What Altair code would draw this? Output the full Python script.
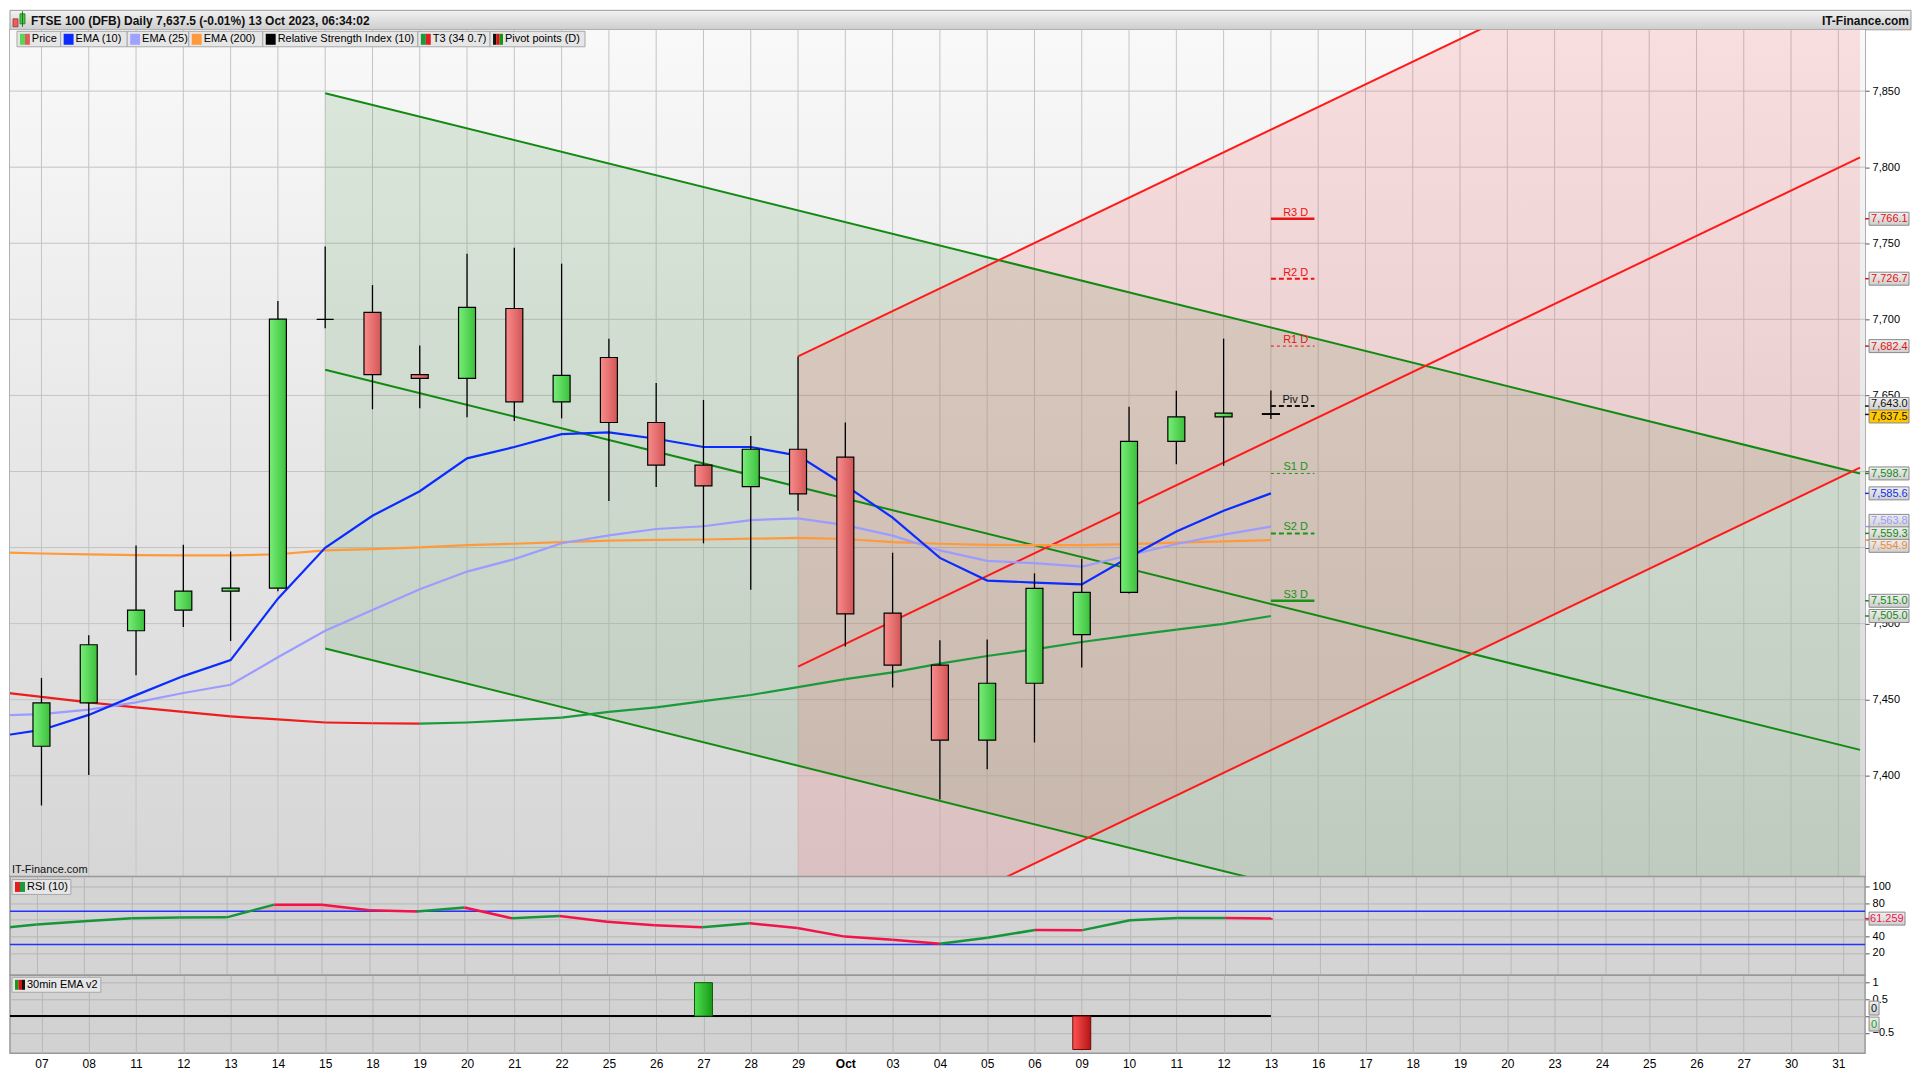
import altair as alt
import pandas as pd

# ---------------- data ----------------
date_labels = ["07", "08", "11", "12", "13", "14", "15", "18", "19", "20", "21", "22", "25", "26", "27", "28", "29",
               "Oct", "03", "04", "05", "06", "09", "10", "11", "12", "13",
               "16", "17", "18", "19", "20", "23", "24", "25", "26", "27", "30", "31"]

opens = [7419.4, 7447.9, 7495.3, 7508.9, 7521.3, 7523.3, 7700.0, 7704.6, 7663.7, 7661.2, 7707.1, 7645.8, 7674.9,
         7632.2, 7604.2, 7590.0, 7614.6, 7609.4, 7506.9, 7472.7, 7423.4, 7460.8, 7492.8, 7520.5, 7619.8, 7635.9, 7638.0]
highs = [7464.3, 7492.3, 7551.3, 7551.8, 7547.4, 7712.1, 7747.8, 7722.5, 7682.8, 7743.1, 7747.0, 7736.6, 7687.3,
         7658.2, 7647.0, 7623.3, 7675.6, 7632.2, 7546.6, 7489.0, 7489.6, 7533.0, 7542.7, 7642.6, 7653.0, 7687.3, 7653.3]
lows = [7380.5, 7400.5, 7466.0, 7497.8, 7488.6, 7521.3, 7694.2, 7640.9, 7641.6, 7635.7, 7633.2, 7634.9, 7580.6,
        7589.8, 7552.8, 7522.3, 7574.2, 7484.9, 7458.0, 7384.4, 7404.3, 7421.9, 7471.2, 7519.8, 7604.7, 7603.7, 7634.5]
closes = [7447.9, 7486.1, 7508.9, 7521.3, 7523.3, 7700.1, 7700.0, 7663.7, 7661.2, 7707.8, 7645.8, 7663.2, 7632.2,
          7604.2, 7590.5, 7614.6, 7585.3, 7506.4, 7472.7, 7423.4, 7460.8, 7523.1, 7520.5, 7619.8, 7635.9, 7638.4, 7637.5]

# indicator series start one session earlier (06 Sep, index -1)
ind_idx = list(range(-1, 27))
ema10 = [7425.5, 7430.1, 7440.0, 7453.0, 7465.5, 7476.0, 7516.4, 7549.8, 7570.9, 7587.0, 7608.6, 7616.1, 7624.5,
         7625.7, 7621.5, 7616.1, 7616.1, 7610.4, 7590.8, 7569.7, 7543.2, 7528.3, 7527.0, 7525.8, 7543.6, 7560.5,
         7574.2, 7585.6]
ema25 = [7439.6, 7440.5, 7443.5, 7448.2, 7454.4, 7459.8, 7477.9, 7495.3, 7508.9, 7522.6, 7534.2, 7542.4, 7552.8,
         7558.0, 7562.2, 7564.0, 7568.0, 7569.2, 7564.7, 7557.8, 7548.1, 7541.2, 7539.7, 7537.4, 7544.9, 7552.3,
         7558.5, 7563.8]
ema200 = [7547.0, 7546.1, 7545.5, 7545.0, 7544.8, 7544.8, 7545.6, 7548.1, 7549.0, 7550.1, 7551.6, 7552.5, 7553.6,
          7554.6, 7555.0, 7555.3, 7555.8, 7556.3, 7555.6, 7553.6, 7552.5, 7551.8, 7551.6, 7551.6, 7552.3, 7553.2,
          7554.0, 7554.9]
t3 = [7455.5, 7451.9, 7448.2, 7445.0, 7442.0, 7439.0, 7437.0, 7435.0, 7434.5, 7434.3, 7435.0, 7436.5, 7438.2,
      7442.0, 7445.0, 7449.0, 7453.1, 7458.3, 7463.5, 7468.0, 7473.7, 7478.7, 7483.1, 7487.9, 7492.1, 7496.1,
      7499.8, 7505.0]
rsi = [48.6, 54.1, 58.1, 61.6, 62.7, 62.8, 78.1, 78.0, 71.4, 69.9, 74.6, 61.6, 64.4, 57.6, 53.4, 51.0, 55.7, 49.9,
       39.6, 35.7, 31.0, 38.1, 47.6, 47.4, 59.3, 61.9, 62.0, 61.259]
rsi_bands = [30, 70]

sig_idx = [14, 22]
sig_val = [1, -1]
sig_last_idx = 26

pivot_names = ["R3 D", "R2 D", "R1 D", "Piv D", "S1 D", "S2 D", "S3 D"]
pivot_vals = [7766.1, 7726.7, 7682.4, 7643.0, 7598.7, 7559.3, 7515.0]
pivot_x = [26, 26.92]

green_ch_x = [6, 38.46]
green_ch_upper = [7848.6, 7598.7]
green_ch_mid = [7666.9, 7417.0]
green_ch_lower = [7483.6, 7233.7]
red_ch_x = [16, 38.46]
red_ch_upper = [7675.6, 8010.3]
red_ch_mid = [7471.7, 7806.4]
red_ch_lower = [7267.8, 7602.5]

price_ticks = list(range(7400, 7851, 50))
price_ticks_hidden = [7550, 7600]          # covered by value tags in the original
price_tags = [7766.1, 7726.7, 7682.4, 7643.0, 7637.5, 7598.7, 7585.6, 7563.8, 7559.3, 7554.9, 7515.0, 7505.0]
price_tag_text = ["7,766.1", "7,726.7", "7,682.4", "7,643.0", "7,637.5", "7,598.7", "7,585.6", "7,563.8",
                  "7,559.3", "7,554.9", "7,515.0", "7,505.0"]

title_text = "FTSE 100 (DFB) Daily 7,637.5 (-0.01%) 13 Oct 2023, 06:34:02"
legend_names = ["Price", "EMA (10)", "EMA (25)", "EMA (200)", "Relative Strength Index (10)", "T3 (34 0.7)",
                "Pivot points (D)"]

# ---------------- styles / layout ----------------
FONT = "Liberation Sans"
W = 1858
H_TOP, H_MAIN, H_RSI, H_EMA = 20, 848, 99, 78
XD = [-0.56, 38.46]
YD_MAIN = [7333.8, 7890.3]
YD_RSI = [-7.0, 112.0]
YD_EMA = [-1.11, 1.22]
GRID = "#c4c4c4"
GREEN_LINE = "#128a12"
RED_LINE = "#ff1a1a"
PIV_COL = {"R": "#ee1111", "P": "#111111", "S": "#179317"}

price_tag_col = ["#e81010", "#e81010", "#e81010", "#111111", "#111111", "#128a12", "#1030f0", "#9a9aff",
                 "#128a12", "#f08a30", "#128a12", "#128a12"]
price_tag_fill = ["#dcdcdc"] * 4 + ["#ffc800"] + ["#dcdcdc"] * 7
legend_edges = [2, 46, 113, 175, 249.5, 405.7, 478.4, 574]
legend_swatches = [["#52d852", "#e05a5a"], ["#0a2cff"], ["#a0a0ff"], ["#ff9a3c"], ["#000000"],
                   ["#1a9a3a", "#e02020"], ["#111111", "#dd1111", "#119911"]]


def lin(c0, c1, vertical=False):
    return alt.LinearGradient(gradient="linear", x1=0, y1=0, x2=0 if vertical else 1, y2=1 if vertical else 0,
                              stops=[alt.GradientStop(offset=0, color=c0), alt.GradientStop(offset=1, color=c1)])


GRAD_G = lin("#78ee78", "#3cc03c")
GRAD_R = lin("#f98c8c", "#d35656")
GRAD_G2 = lin("#50de50", "#179a17")
GRAD_R2 = lin("#ff5252", "#b51414")
MAIN_BG = lin("#f9f9f9", "#d6d6d6", vertical=True)
BAR_BG = lin("#f2f2f2", "#cdcdcd", vertical=True)
BOX_BG = lin("#efefef", "#cfcfcf", vertical=True)

day_idx = list(range(len(date_labels)))
xs = alt.Scale(domain=XD, nice=False, zero=False)


def spread(vals, gap):
    order = sorted(range(len(vals)), key=lambda i: -vals[i])
    pos = [vals[i] for i in order]
    for _ in range(300):
        moved = False
        for k in range(len(pos) - 1):
            d = pos[k] - pos[k + 1]
            if d < gap - 1e-9:
                m = (gap - d) / 2
                pos[k] += m
                pos[k + 1] -= m
                moved = True
        if not moved:
            break
    out = [0.0] * len(vals)
    for k, i in enumerate(order):
        out[i] = pos[k]
    return out


def yaxis(values, grid=True, gridcolor=GRID, fmt=None, hide=None):
    kw = dict(orient="right", values=values, grid=grid, labelFont=FONT, labelFontSize=11, labelColor="#000",
              tickSize=4, tickColor="#555", domain=False, title=None, labelPadding=3)
    if grid:
        kw["gridColor"] = gridcolor
        kw["gridWidth"] = 1
    if fmt:
        kw["format"] = fmt
    if hide:
        kw["labelExpr"] = "indexof([%s], datum.value) >= 0 ? '' : datum.label" % ",".join(str(h) for h in hide)
    return alt.Axis(**kw)


ax_x_nogrid = alt.Axis(grid=False, labels=False, ticks=False, domain=False, title=None, values=day_idx)
ax_x_hidden = alt.Axis(grid=True, labels=False, ticks=False, domain=False, title=None, values=day_idx,
                       gridColor="#b8b8b8", gridWidth=1)
label_arr = "[" + ",".join("'%s'" % d for d in date_labels) + "]"
ax_x_bottom = alt.Axis(grid=True, labels=True, ticks=False, domain=False, title=None, values=day_idx,
                       gridColor="#b8b8b8", labelExpr=label_arr + "[datum.value]", labelFont=FONT,
                       labelFontSize=12, labelColor="#000", labelPadding=5,
                       labelFontWeight={"condition": {"test": "datum.value == 17", "value": "bold"},
                                        "value": "normal"})

one = pd.DataFrame({"a": [0]})

# ================= top bar =================
top_layers = [
    alt.Chart(one).mark_rect(fill=BAR_BG, stroke="#9a9a9a", strokeWidth=1).encode(
        x=alt.value(0), x2=alt.value(W + 46), y=alt.value(0.5), y2=alt.value(H_TOP)),
    alt.Chart(one).mark_rect(fill="#e86060", stroke="#a03030", strokeWidth=0.8).encode(
        x=alt.value(3), x2=alt.value(8), y=alt.value(9), y2=alt.value(17)),
    alt.Chart(one).mark_rect(fill="#40d040", stroke="#207020", strokeWidth=0.8).encode(
        x=alt.value(10), x2=alt.value(15), y=alt.value(4), y2=alt.value(14)),
    alt.Chart(one).mark_rule(color="#207020").encode(x=alt.value(12.5), y=alt.value(1.5), y2=alt.value(17)),
    alt.Chart(one).mark_text(text=title_text, font=FONT, fontSize=12, fontWeight="bold", align="left",
                             baseline="middle", color="#111").encode(x=alt.value(21), y=alt.value(11)),
    alt.Chart(one).mark_text(text="IT-Finance.com", font=FONT, fontSize=12, fontWeight="bold", align="right",
                             baseline="middle", color="#111").encode(x=alt.value(W + 44), y=alt.value(11)),
]
top = alt.layer(*top_layers).properties(width=W, height=H_TOP,
                                         view=alt.ViewBackground(stroke="transparent"))

# ================= main panel =================
ys_main = alt.Scale(domain=YD_MAIN, nice=False, zero=False)
ax_main_y = yaxis(price_ticks, grid=False, fmt=",.0f", hide=price_ticks_hidden)
PX_PER_PT = H_MAIN / (YD_MAIN[1] - YD_MAIN[0])


def MX(f):
    return alt.X(f + ":Q", scale=xs, axis=ax_x_nogrid)


def MY(f):
    return alt.Y(f + ":Q", scale=ys_main, axis=ax_main_y)


def mx(px):
    return XD[0] + px / W * (XD[1] - XD[0])


def my(py):
    return YD_MAIN[1] - py / H_MAIN * (YD_MAIN[1] - YD_MAIN[0])


main_layers = [
    alt.Chart(one).mark_rect(fill=MAIN_BG).encode(x=alt.value(0), x2=alt.value(W), y=alt.value(0),
                                                  y2=alt.value(H_MAIN)),
    alt.Chart(pd.DataFrame({"x": day_idx})).mark_rule(color=GRID, strokeWidth=1).encode(x=MX("x")),
    alt.Chart(pd.DataFrame({"y": price_ticks})).mark_rule(color=GRID, strokeWidth=1).encode(y=MY("y")),
]

gfill = pd.DataFrame({"x": green_ch_x, "y": green_ch_upper, "y2": green_ch_lower})
main_layers.append(alt.Chart(gfill).mark_area(clip=True, color="#3a8f3a", opacity=0.15).encode(
    x=MX("x"), y=MY("y"), y2=alt.Y2("y2")))
rfill = pd.DataFrame({"x": red_ch_x, "y": red_ch_upper, "y2": red_ch_lower})
main_layers.append(alt.Chart(rfill).mark_area(clip=True, color="#f25050", opacity=0.16).encode(
    x=MX("x"), y=MY("y"), y2=alt.Y2("y2")))

ch_rows = []
for ys_, col, xx in [(green_ch_upper, GREEN_LINE, green_ch_x), (green_ch_mid, GREEN_LINE, green_ch_x),
                     (green_ch_lower, GREEN_LINE, green_ch_x), (red_ch_upper, RED_LINE, red_ch_x),
                     (red_ch_mid, RED_LINE, red_ch_x), (red_ch_lower, RED_LINE, red_ch_x)]:
    ch_rows.append({"x": xx[0], "x2": xx[1], "y": ys_[0], "y2": ys_[1], "col": col})
main_layers.append(alt.Chart(pd.DataFrame(ch_rows)).mark_rule(clip=True, strokeWidth=2).encode(
    x=MX("x"), x2=alt.X2("x2"), y=MY("y"), y2=alt.Y2("y2"), color=alt.Color("col:N", scale=None)))

# T3 coloured segments
t3_rows = []
for i in range(len(ind_idx) - 1):
    t3_rows.append({"x": ind_idx[i], "x2": ind_idx[i + 1], "y": t3[i], "y2": t3[i + 1],
                    "col": "#1a9a3a" if t3[i + 1] >= t3[i] else "#ee1c1c"})
main_layers.append(alt.Chart(pd.DataFrame(t3_rows)).mark_rule(clip=True, strokeWidth=2.2).encode(
    x=MX("x"), x2=alt.X2("x2"), y=MY("y"), y2=alt.Y2("y2"), color=alt.Color("col:N", scale=None)))

for series, col in [(ema200, "#ff9a3c"), (ema25, "#9c9cff"), (ema10, "#0a2cff")]:
    df = pd.DataFrame({"x": ind_idx, "y": series})
    main_layers.append(alt.Chart(df).mark_line(clip=True, strokeWidth=2.2, color=col).encode(
        x=MX("x"), y=MY("y")))

candles = pd.DataFrame({"x": list(range(len(opens))), "o": opens, "h": highs, "l": lows, "c": closes})
candles["up"] = candles["c"] >= candles["o"]
main_layers.append(alt.Chart(candles).mark_rule(color="#000", strokeWidth=1.3).encode(
    x=MX("x"), y=MY("l"), y2=alt.Y2("h")))
main_layers.append(alt.Chart(candles[candles["up"]]).mark_bar(width=17, fill=GRAD_G, stroke="#000",
                                                               strokeWidth=1.2).encode(
    x=MX("x"), y=MY("o"), y2=alt.Y2("c")))
main_layers.append(alt.Chart(candles[~candles["up"]]).mark_bar(width=17, fill=GRAD_R, stroke="#000",
                                                                strokeWidth=1.2).encode(
    x=MX("x"), y=MY("o"), y2=alt.Y2("c")))

# pivot levels
piv_style = {"R3 D": (2.5, None), "R2 D": (2.0, [5, 3]), "R1 D": (1.0, [3, 3]), "Piv D": (2.0, [5, 3]),
             "S1 D": (1.0, [3, 3]), "S2 D": (2.0, [5, 3]), "S3 D": (2.5, None)}
piv_text_rows = []
for name, val in zip(pivot_names, pivot_vals):
    col = PIV_COL[name[0]]
    sw, dash = piv_style[name]
    df = pd.DataFrame({"x": [pivot_x[0]], "x2": [pivot_x[1]], "y": [val]})
    kw = dict(color=col, strokeWidth=sw)
    if dash:
        kw["strokeDash"] = dash
    main_layers.append(alt.Chart(df).mark_rule(**kw).encode(x=MX("x"), x2=alt.X2("x2"), y=MY("y")))
    piv_text_rows.append({"x": (pivot_x[0] + pivot_x[1]) / 2, "y": val, "t": name, "col": col})
main_layers.append(alt.Chart(pd.DataFrame(piv_text_rows)).mark_text(
    font=FONT, fontSize=11, align="center", baseline="bottom", dx=3, dy=-1).encode(
    x=MX("x"), y=MY("y"), text="t:N", color=alt.Color("col:N", scale=None)))

# right-hand value tags
tag_pos = spread(price_tags, 12.5 / PX_PER_PT)
half = 6.5 / PX_PER_PT
tags = pd.DataFrame({"v": price_tags, "p": tag_pos, "t": price_tag_text, "col": price_tag_col,
                     "fill": price_tag_fill})
tags["top"] = tags["p"] + half
tags["bot"] = tags["p"] - half
main_layers.append(alt.Chart(tags).mark_rule(strokeWidth=1.5).encode(
    x=alt.value(W), x2=alt.value(W + 4), y=MY("v"), color=alt.Color("col:N", scale=None)))
for i in range(len(tags)):
    row = tags.iloc[[i]]
    fill = BOX_BG if row["fill"].iloc[0] == "#dcdcdc" else row["fill"].iloc[0]
    main_layers.append(alt.Chart(row).mark_rect(fill=fill, stroke="#8a8a8a", strokeWidth=1).encode(
        x=alt.value(W + 4), x2=alt.value(W + 44), y=MY("top"), y2=alt.Y2("bot")))
    main_layers.append(alt.Chart(row).mark_text(font=FONT, fontSize=11, align="left", baseline="middle",
                                                dy=0.5).encode(
        x=alt.value(W + 6), y=MY("p"), text="t:N", color=alt.Color("col:N", scale=None)))

# legend row (overlay at top-left)
leg_boxes = pd.DataFrame({"x": [mx(legend_edges[i]) for i in range(7)],
                          "x2": [mx(legend_edges[i + 1]) for i in range(7)],
                          "y": [my(1.5)] * 7, "y2": [my(17)] * 7,
                          "tx": [mx(legend_edges[i] + 15) for i in range(7)], "ty": [my(9.5)] * 7,
                          "t": legend_names})
main_layers.append(alt.Chart(leg_boxes).mark_rect(fill="#e6e6e6", stroke="#a8a8a8", strokeWidth=1).encode(
    x=MX("x"), x2=alt.X2("x2"), y=MY("y"), y2=alt.Y2("y2")))
sw_rows = []
for i, cols in enumerate(legend_swatches):
    n = len(cols)
    for j, c in enumerate(cols):
        a = legend_edges[i] + 3 + 10 * j / n
        b = legend_edges[i] + 3 + 10 * (j + 1) / n
        sw_rows.append({"x": mx(a), "x2": mx(b), "y": my(4), "y2": my(15), "col": c})
main_layers.append(alt.Chart(pd.DataFrame(sw_rows)).mark_rect().encode(
    x=MX("x"), x2=alt.X2("x2"), y=MY("y"), y2=alt.Y2("y2"), color=alt.Color("col:N", scale=None)))
main_layers.append(alt.Chart(leg_boxes).mark_text(font=FONT, fontSize=11, align="left", baseline="middle",
                                                  color="#000").encode(
    x=MX("tx"), y=MY("ty"), text="t:N"))
main_layers.append(alt.Chart(one).mark_text(text="IT-Finance.com", font=FONT, fontSize=11, align="left",
                                            baseline="bottom", color="#111").encode(
    x=alt.value(2), y=alt.value(H_MAIN - 1)))

main = alt.layer(*main_layers).properties(width=W, height=H_MAIN,
                                          view=alt.ViewBackground(stroke="#999", strokeWidth=1.5))

# ================= RSI panel =================
ys_rsi = alt.Scale(domain=YD_RSI, nice=False, zero=False)
ax_rsi_y = yaxis([20, 40, 60, 80, 100], gridcolor="#b6b6b6", hide=[60])


def RX(f):
    return alt.X(f + ":Q", scale=xs, axis=ax_x_hidden)


def RY(f):
    return alt.Y(f + ":Q", scale=ys_rsi, axis=ax_rsi_y)


rsi_layers = []
hi = rsi_bands[1]
fx, fy = [], []
for i in range(len(ind_idx)):
    if i > 0:
        a, b = rsi[i - 1], rsi[i]
        if (a - hi) * (b - hi) < 0:
            t = (hi - a) / (b - a)
            fx.append(ind_idx[i - 1] + t)
            fy.append(hi)
    fx.append(ind_idx[i])
    fy.append(max(rsi[i], hi))
rsi_fill = pd.DataFrame({"x": fx, "y": fy, "y2": [hi] * len(fx)})
rsi_layers.append(alt.Chart(rsi_fill).mark_area(clip=True, color="#e07080", opacity=0.3).encode(
    x=RX("x"), y=RY("y"), y2=alt.Y2("y2")))
rsi_layers.append(alt.Chart(pd.DataFrame({"y": rsi_bands})).mark_rule(color="#2233ff", strokeWidth=1.5).encode(
    y=RY("y")))
rs_rows = []
for i in range(len(ind_idx) - 1):
    rs_rows.append({"x": ind_idx[i], "x2": ind_idx[i + 1], "y": rsi[i], "y2": rsi[i + 1],
                    "col": "#17953a" if rsi[i + 1] >= rsi[i] else "#f0144a"})
rsi_layers.append(alt.Chart(pd.DataFrame(rs_rows)).mark_rule(clip=True, strokeWidth=2.5).encode(
    x=RX("x"), x2=alt.X2("x2"), y=RY("y"), y2=alt.Y2("y2"), color=alt.Color("col:N", scale=None)))
rsi_layers += [
    alt.Chart(one).mark_rect(fill="#e6e6e6", stroke="#a8a8a8").encode(
        x=alt.value(2), x2=alt.value(61), y=alt.value(3), y2=alt.value(18)),
    alt.Chart(one).mark_rect(fill="#e02020").encode(x=alt.value(5), x2=alt.value(10), y=alt.value(5.5),
                                                   y2=alt.value(15.5)),
    alt.Chart(one).mark_rect(fill="#1a9a3a").encode(x=alt.value(10), x2=alt.value(15), y=alt.value(5.5),
                                                   y2=alt.value(15.5)),
    alt.Chart(one).mark_text(text="RSI (10)", font=FONT, fontSize=11, align="left", baseline="middle",
                             color="#000").encode(x=alt.value(17), y=alt.value(10.5)),
]
rsi_last = pd.DataFrame({"v": [rsi[-1]], "t": ["61.259"]})
rpx = H_RSI / (YD_RSI[1] - YD_RSI[0])
rsi_last["top"] = rsi_last["v"] + 6.5 / rpx
rsi_last["bot"] = rsi_last["v"] - 6.5 / rpx
rsi_layers += [
    alt.Chart(rsi_last).mark_rule(color="#f0144a", strokeWidth=1.5).encode(
        x=alt.value(W), x2=alt.value(W + 4), y=RY("v")),
    alt.Chart(rsi_last).mark_rect(fill=BOX_BG, stroke="#8a8a8a").encode(
        x=alt.value(W + 4), x2=alt.value(W + 40), y=RY("top"), y2=alt.Y2("bot")),
    alt.Chart(rsi_last).mark_text(font=FONT, fontSize=11, align="left", baseline="middle", color="#f0144a",
                                  dy=0.5).encode(x=alt.value(W + 5), y=RY("v"), text="t:N"),
]
rsi_panel = alt.layer(*rsi_layers).properties(width=W, height=H_RSI,
                                              view=alt.ViewBackground(fill="#d4d4d4", stroke="#999",
                                                                      strokeWidth=1.5))

# ================= 30min EMA v2 panel =================
ys_ema = alt.Scale(domain=YD_EMA, nice=False, zero=False)
ax_ema_y = yaxis([1, 0.5, 0, -0.5], gridcolor="#b6b6b6", fmt="~g", hide=[0])


def EX(f):
    return alt.X(f + ":Q", scale=xs, axis=ax_x_bottom)


def EY(f):
    return alt.Y(f + ":Q", scale=ys_ema, axis=ax_ema_y)


sig = pd.DataFrame({"x": sig_idx, "y": sig_val, "y0": [0] * len(sig_idx)})
ema_layers = [
    alt.Chart(pd.DataFrame({"x": [XD[0] - 1], "x2": [sig_last_idx], "y": [0]})).mark_rule(
        clip=True, color="#000", strokeWidth=2).encode(x=EX("x"), x2=alt.X2("x2"), y=EY("y")),
    alt.Chart(sig[sig["y"] > 0]).mark_bar(width=18, fill=GRAD_G2, stroke="#0a5a0a", strokeWidth=1).encode(
        x=EX("x"), y=EY("y"), y2=alt.Y2("y0")),
    alt.Chart(sig[sig["y"] < 0]).mark_bar(width=18, fill=GRAD_R2, stroke="#6a0a0a", strokeWidth=1).encode(
        x=EX("x"), y=EY("y"), y2=alt.Y2("y0")),
    alt.Chart(one).mark_rect(fill="#e6e6e6", stroke="#a8a8a8").encode(
        x=alt.value(2), x2=alt.value(91), y=alt.value(2), y2=alt.value(17)),
    alt.Chart(one).mark_rect(fill="#1a9a1a").encode(x=alt.value(5), x2=alt.value(8.5), y=alt.value(4.5),
                                                   y2=alt.value(14.5)),
    alt.Chart(one).mark_rect(fill="#d01010").encode(x=alt.value(8.5), x2=alt.value(12), y=alt.value(4.5),
                                                   y2=alt.value(14.5)),
    alt.Chart(one).mark_rect(fill="#111111").encode(x=alt.value(12), x2=alt.value(15), y=alt.value(4.5),
                                                   y2=alt.value(14.5)),
    alt.Chart(one).mark_text(text="30min EMA v2", font=FONT, fontSize=11, align="left", baseline="middle",
                             color="#000").encode(x=alt.value(17), y=alt.value(9.5)),
]
epx = H_EMA / (YD_EMA[1] - YD_EMA[0])
ema_tags = pd.DataFrame({"v": [0, 0], "p": spread([0.0001, 0], 16 / epx), "t": ["0", "0"],
                         "col": ["#111111", "#1aa01a"]})
ema_tags["top"] = ema_tags["p"] + 7 / epx
ema_tags["bot"] = ema_tags["p"] - 7 / epx
for i in range(len(ema_tags)):
    row = ema_tags.iloc[[i]]
    ema_layers.append(alt.Chart(row).mark_rect(fill=BOX_BG, stroke="#8a8a8a").encode(
        x=alt.value(W + 4), x2=alt.value(W + 14), y=EY("top"), y2=alt.Y2("bot")))
    ema_layers.append(alt.Chart(row).mark_text(font=FONT, fontSize=11, align="left", baseline="middle",
                                               dy=0.5).encode(
        x=alt.value(W + 6), y=EY("p"), text="t:N", color=alt.Color("col:N", scale=None)))
ema_panel = alt.layer(*ema_layers).properties(width=W, height=H_EMA,
                                              view=alt.ViewBackground(fill="#d2d2d2", stroke="#999",
                                                                      strokeWidth=1.5))

chart = alt.vconcat(top, main, rsi_panel, ema_panel, spacing=0, bounds="flush", padding=0).configure_view(
    stroke="#999")

chart.save("out.html", embed_options={"renderer": "svg", "actions": False})
